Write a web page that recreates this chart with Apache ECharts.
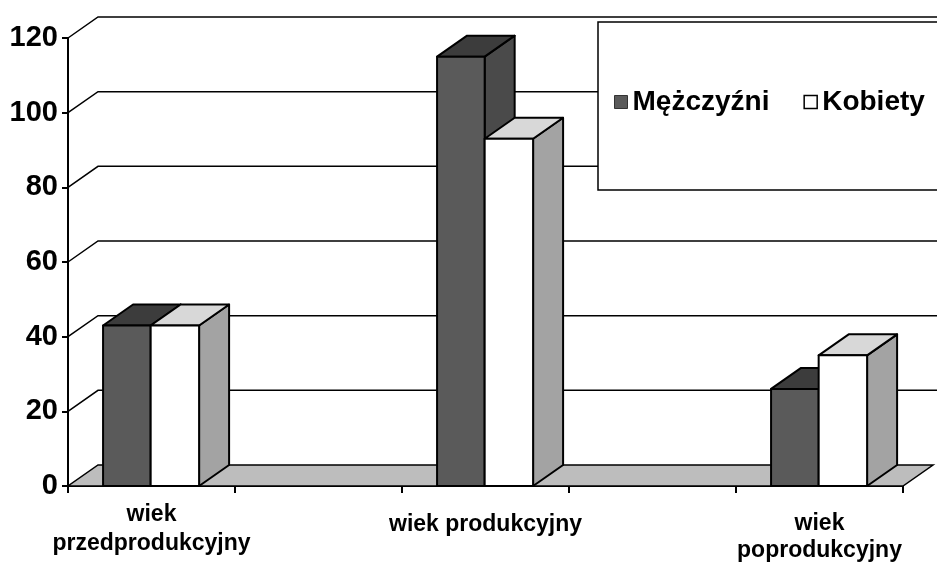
<!DOCTYPE html>
<html>
<head>
<meta charset="utf-8">
<script src="https://cdn.jsdelivr.net/npm/echarts@6/dist/echarts.min.js"></script>
<style>
  html, body { margin: 0; padding: 0; background: #fff; }
  #c1 { width: 937px; height: 566px; }
</style>
</head>
<body>
<div id="c1"></div>
<script>
// kategorie (puste sa tylko odstepami miedzy grupami)
var categories = ['wiek\nprzedprodukcyjny', '', 'wiek produkcyjny', '', 'wiek\npoprodukcyjny'];
var men   = [43, '-', 115, '-', 26];
var women = [43, '-', 93, '-', 35];
var yTicks = [0, 20, 40, 60, 80, 100, 120];

var DX = 30, DY = -21;   // glebokosc 3D
var FONT = 'Liberation Sans';

function toData(arr) {
  var out = [];
  for (var i = 0; i < arr.length; i++)
    if (arr[i] !== '-') out.push([i, arr[i]]);
  return out;
}

function barRender(from, to, c) {
  return function (params, api) {
    var ci = api.value(0), v = api.value(1);
    var band = api.size([1, 0])[0];
    var b = api.coord([ci, 0]);
    var t = api.coord([ci, v]);
    var x0 = b[0] + band * from, x1 = b[0] + band * to;
    var y0 = b[1], y1 = t[1];
    var st = {stroke: '#000', lineWidth: 2, lineJoin: 'round'};
    return {
      type: 'group',
      children: [
        {type: 'polygon', shape: {points: [[x1, y0], [x1 + DX, y0 + DY], [x1 + DX, y1 + DY], [x1, y1]]},
         style: Object.assign({fill: c.side}, st)},
        {type: 'polygon', shape: {points: [[x0, y1], [x1, y1], [x1 + DX, y1 + DY], [x0 + DX, y1 + DY]]},
         style: Object.assign({fill: c.top}, st)},
        {type: 'rect', shape: {x: x0, y: y1, width: x1 - x0, height: y0 - y1},
         style: Object.assign({fill: c.front}, st)}
      ]
    };
  };
}

function gridRender(params, api) {
  var v = api.value(1);
  var band = api.size([1, 0])[0];
  var p = api.coord([0, v]);
  var xl = p[0] - band / 2;
  var xr = params.coordSys.x + params.coordSys.width;
  var y = p[1];
  var kids = [];
  if (v === 0) {
    kids.push({type: 'polygon',
      shape: {points: [[xl, y], [xr, y], [xr + DX, y + DY], [xl + DX, y + DY]]},
      style: {fill: '#bdbdbd', stroke: '#000', lineWidth: 1.5}});
  } else {
    kids.push({type: 'polyline',
      shape: {points: [[xl, y], [xl + DX, y + DY], [xr + DX + 60, y + DY]]},
      style: {fill: null, stroke: '#000', lineWidth: 1.5}});
  }
  return {type: 'group', children: kids};
}

var catData = categories.map(function (c, i) {
  if (i === 2) return {value: c, textStyle: {padding: [10, 0, 0, 0]}};
  if (i === 4) return {value: c, textStyle: {padding: [10, 0, 0, 0], lineHeight: 27}};
  return c;
});

var option = {
  animation: false,
  backgroundColor: '#fff',
  grid: {left: 68, right: 34, top: 38, bottom: 80, containLabel: false, outerBoundsMode: 'none'},
  legend: {
    left: 598, top: 22,
    orient: 'horizontal',
    width: 600,
    padding: [66, 80, 74, 16],
    backgroundColor: '#fff',
    borderColor: '#000',
    borderWidth: 1.5,
    borderRadius: 0,
    itemWidth: 13, itemHeight: 13,
    itemGap: 34,
    icon: 'rect',
    textStyle: {fontFamily: FONT, fontWeight: 'bold', fontSize: 28, color: '#000'},
    data: [
      {name: 'Mężczyźni', itemStyle: {color: '#5a5a5a', borderColor: '#333', borderWidth: 1}},
      {name: 'Kobiety', itemStyle: {color: '#fff', borderColor: '#000', borderWidth: 1.5}}
    ],
    z: 10
  },
  xAxis: {
    type: 'category',
    data: catData,
    boundaryGap: true,
    axisLine: {lineStyle: {color: '#000', width: 2}},
    axisTick: {show: true, length: 7, lineStyle: {color: '#000', width: 2}},
    axisLabel: {
      interval: 0, margin: 14,
      fontFamily: FONT, fontWeight: 'bold', fontSize: 23, color: '#000',
      lineHeight: 29
    },
    splitLine: {show: false}
  },
  yAxis: {
    type: 'value',
    min: 0, max: 120, interval: 20,
    axisLine: {show: true, lineStyle: {color: '#000', width: 2}},
    axisTick: {show: true, length: 6, lineStyle: {color: '#000', width: 2}},
    axisLabel: {margin: 10, fontFamily: FONT, fontWeight: 'bold', fontSize: 29, color: '#000'},
    splitLine: {show: false}
  },
  series: [
    {
      name: 'siatka', type: 'custom', clip: false, z: 1, silent: true,
      data: yTicks.map(function (v) { return [0, v]; }),
      renderItem: gridRender
    },
    {
      name: 'Mężczyźni', type: 'custom', clip: false, z: 2,
      itemStyle: {color: '#5a5a5a'},
      data: toData(men),
      renderItem: barRender(-0.29, -0.005, {front: '#5a5a5a', top: '#3c3c3c', side: '#4a4a4a'})
    },
    {
      name: 'Kobiety', type: 'custom', clip: false, z: 3,
      itemStyle: {color: '#fff'},
      data: toData(women),
      renderItem: barRender(-0.005, 0.285, {front: '#ffffff', top: '#d8d8d8', side: '#a3a3a3'})
    }
  ]
};

var myChart = echarts.init(document.getElementById('c1'));
myChart.setOption(option);
window.onresize = myChart.resize;
</script>
</body>
</html>
